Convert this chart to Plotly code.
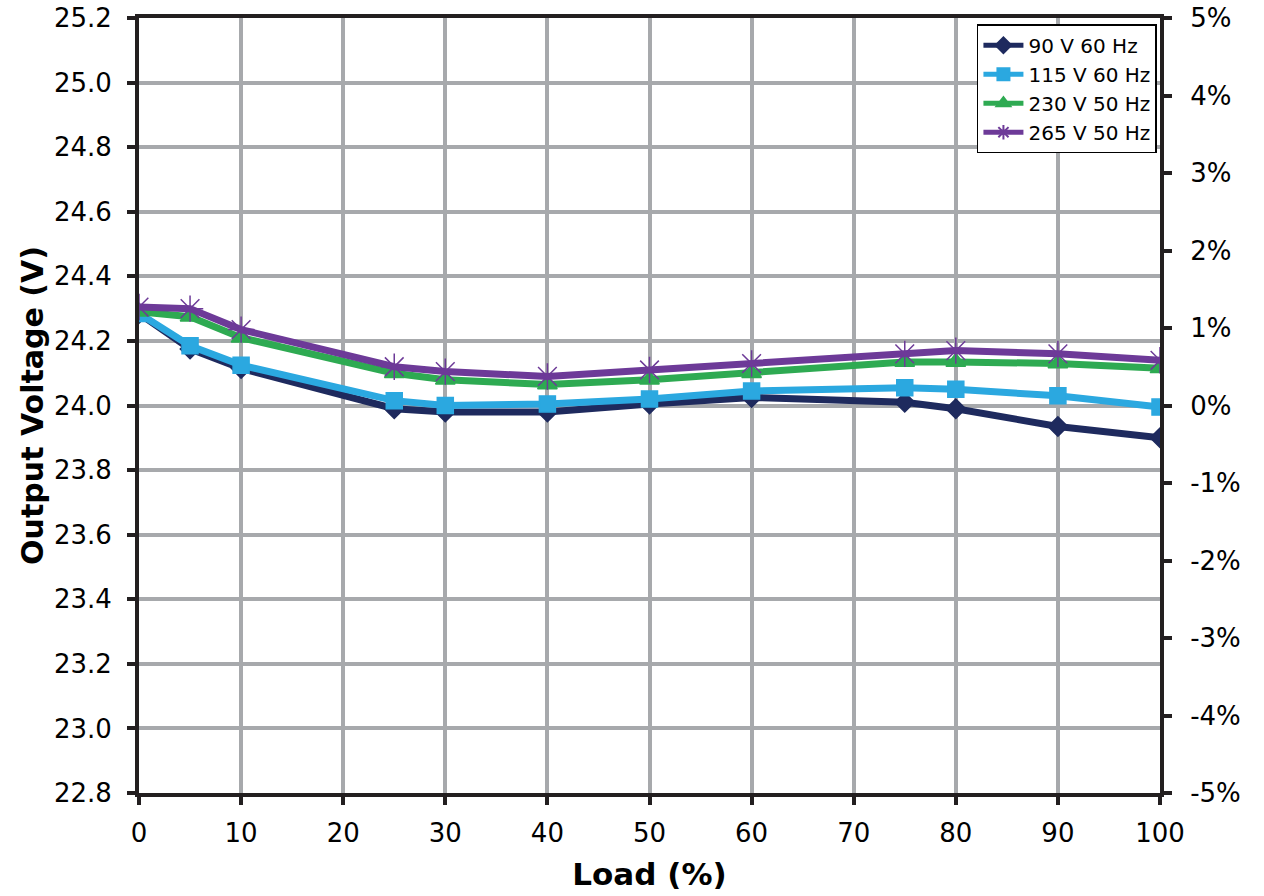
import plotly.graph_objects as go

load = [0, 5, 10, 25, 30, 40, 50, 60, 75, 80, 90, 100]
v90 = [24.285, 24.175, 24.115, 23.99, 23.98, 23.98, 24.005, 24.025, 24.01, 23.99, 23.935, 23.90]
v115 = [24.285, 24.185, 24.125, 24.015, 24.0, 24.005, 24.02, 24.045, 24.055, 24.05, 24.03, 23.995]
v230 = [24.29, 24.275, 24.21, 24.10, 24.08, 24.065, 24.08, 24.10, 24.135, 24.135, 24.13, 24.115]
v265 = [24.305, 24.30, 24.235, 24.12, 24.105, 24.09, 24.11, 24.13, 24.16, 24.17, 24.16, 24.14]

names = ["90 V 60 Hz", "115 V 60 Hz", "230 V 50 Hz", "265 V 50 Hz"]
colors = ["#1E2A5E", "#2BA8E0", "#2EAA52", "#6D3A98"]
symbols = ["diamond", "square", "triangle-up", "asterisk-open"]
sizes = [15, 16, 17, 22]
series = [v90, v115, v230, v265]

y_ticks = [22.8 + 0.2 * i for i in range(13)]
pct_ticks = [-0.05, -0.04, -0.03, -0.02, -0.01, 0, 0.01, 0.02, 0.03, 0.04, 0.05]
pct_labels = ["-5%", "-4%", "-3%", "-2%", "-1%", "0%", "1%", "2%", "3%", "4%", "5%"]

fig = go.Figure()
for name, ys, c, s, sz in zip(names, series, colors, symbols, sizes):
    fig.add_trace(go.Scatter(
        x=load, y=ys, name=name, mode="lines+markers",
        line=dict(color=c, width=7),
        marker=dict(symbol=s, size=sz, color=c, line=dict(color=c, width=1.5)),
    ))

# invisible trace for secondary axis
fig.add_trace(go.Scatter(x=[0], y=[0], yaxis="y2", showlegend=False,
                         mode="markers", marker=dict(opacity=0), hoverinfo="skip"))

font_fam = "DejaVu Sans"
fig.update_layout(
    width=1264, height=896,
    margin=dict(l=139, r=104, t=18, b=103),
    paper_bgcolor="white", plot_bgcolor="white",
    font=dict(family=font_fam, size=26, color="black"),
    showlegend=True,
    legend=dict(
        x=0.997, y=0.992, xanchor="right", yanchor="top",
        bgcolor="white", bordercolor="black", borderwidth=1.5,
        font=dict(family=font_fam, size=20),
        tracegroupgap=0, itemwidth=40, itemsizing="constant",
    ),
    xaxis=dict(
        range=[0, 100], tickvals=list(range(0, 101, 10)),
        showgrid=True, gridcolor="#A7A9AC", gridwidth=4,
        showline=True, linecolor="#231F20", linewidth=4, mirror=True,
        ticks="outside", ticklen=8, tickwidth=4, tickcolor="#231F20",
        ticklabelstandoff=6, ticklabeloverflow="allow",
        zeroline=False, automargin=False,
        title=dict(text="<b>Load (%)</b>", font=dict(size=31), standoff=17),
    ),
    yaxis=dict(
        range=[22.8, 25.2], tickvals=y_ticks,
        ticktext=[f"{t:.1f}" for t in y_ticks],
        showgrid=True, gridcolor="#A7A9AC", gridwidth=4,
        showline=True, linecolor="#231F20", linewidth=4,
        ticks="outside", ticklen=8, tickwidth=4, tickcolor="#231F20",
        ticklabelstandoff=10, ticklabeloverflow="allow",
        zeroline=False, automargin=False,
        title=dict(text="<b>Output Voltage (V)</b>", font=dict(size=30), standoff=2),
    ),
    yaxis2=dict(
        range=[-0.05, 0.05], overlaying="y", side="right",
        tickvals=pct_ticks, ticktext=pct_labels,
        showgrid=False, zeroline=False, automargin=False,
        showline=True, linecolor="#231F20", linewidth=4,
        ticks="outside", ticklen=8, tickwidth=4, tickcolor="#231F20",
        ticklabelstandoff=13, ticklabeloverflow="allow",
    ),
)

fig.write_html("out.html",
               config={"displayModeBar": False},
               post_script="document.body.style.margin='0';document.body.style.overflow='hidden';")
